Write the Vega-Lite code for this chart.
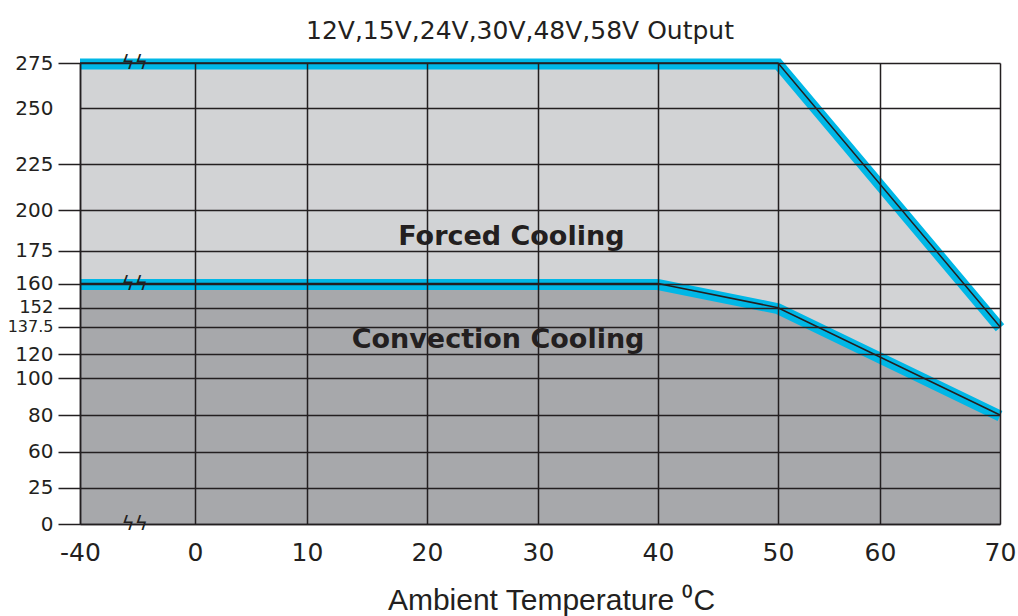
{
  "$schema": "https://vega.github.io/schema/vega-lite/v6.json",
  "autosize": {"type": "none"},
  "width": 920,
  "height": 461,
  "padding": {"left": 80, "top": 63, "right": 18, "bottom": 92},
  "background": "white",
  "config": {"view": {"stroke": null}},
  "title": {
    "text": "12V,15V,24V,30V,48V,58V Output",
    "font": "DejaVu Sans",
    "fontSize": 25,
    "fontWeight": "normal",
    "color": "#231f20",
    "anchor": "middle",
    "baseline": "bottom",
    "dx": -20,
    "dy": 38,
    "offset": 11
  },
  "data": {
    "values": [
      {"s": "forced", "t": -40, "p": 275},
      {"s": "forced", "t": 50, "p": 275},
      {"s": "forced", "t": 70, "p": 137.5},
      {"s": "conv", "t": -40, "p": 160},
      {"s": "conv", "t": 40, "p": 160},
      {"s": "conv", "t": 50, "p": 152},
      {"s": "conv", "t": 70, "p": 80},
      {"s": "label", "t": 27.6, "p": 178.5, "text": "Forced Cooling"},
      {"s": "label", "t": 26.4, "p": 124, "text": "Convection Cooling"},
      {"s": "break", "t": -21, "p": 275, "text": "ϟϟ"},
      {"s": "break", "t": -21, "p": 160, "text": "ϟϟ"},
      {"s": "break", "t": -21, "p": 0, "text": "ϟϟ"}
    ]
  },
  "encoding": {
    "x": {
      "field": "t",
      "type": "quantitative",
      "scale": {
        "domain": [-40, 0, 10, 20, 30, 40, 50, 60, 70],
        "range": [0, 115, 227, 347, 458, 578, 698, 800, 920],
        "clamp": false
      },
      "axis": {
        "values": [-40, 0, 10, 20, 30, 40, 50, 60, 70],
        "labelExpr": "datum.value + ''",
        "grid": true,
        "gridColor": "#231f20",
        "gridWidth": 1.5,
        "ticks": false,
        "domainColor": "#231f20",
        "domainWidth": 1.5,
        "labelFont": "DejaVu Sans",
        "labelFontSize": 25,
        "labelColor": "#231f20",
        "labelPadding": 16,
        "labelFlush": false,
        "labelOverlap": false,
        "title": "Ambient Temperature ⁰C",
        "titleFont": "Liberation Sans",
        "titleFontSize": 30,
        "titleFontWeight": "normal",
        "titleColor": "#231f20",
        "titleX": 471,
        "titleY": 85,
        "titleBaseline": "alphabetic",
        "zindex": 1
      }
    },
    "y": {
      "field": "p",
      "type": "quantitative",
      "scale": {
        "domain": [0, 25, 60, 80, 100, 120, 137.5, 152, 160, 175, 200, 225, 250, 275],
        "range": [461, 424.7, 388.7, 352, 315.3, 291.3, 263.7, 244.7, 220.5, 187.7, 147, 101, 45.3, 0],
        "clamp": false
      },
      "axis": {
        "values": [0, 25, 60, 80, 100, 120, 137.5, 152, 160, 175, 200, 225, 250, 275],
        "labelExpr": "datum.value + ''",
        "grid": true,
        "gridColor": "#231f20",
        "gridWidth": 1.5,
        "tickSize": 22,
        "tickWidth": 1.5,
        "tickColor": {"condition": {"test": "datum.value === 250", "value": "transparent"}, "value": "#231f20"},
        "domainColor": "#231f20",
        "domainWidth": 1.5,
        "labelFont": "DejaVu Sans",
        "labelFontSize": {"condition": [{"test": "datum.value === 137.5", "value": 16}, {"test": "datum.value === 152", "value": 18}], "value": 20},
        "labelColor": "#231f20",
        "labelPadding": 5,
        "labelFlush": false,
        "labelOverlap": false,
        "title": null,
        "zindex": 1
      }
    }
  },
  "layer": [
    {
      "transform": [{"filter": "datum.s === 'forced'"}],
      "mark": {"type": "area", "color": "#d2d3d5", "interpolate": "linear"}
    },
    {
      "transform": [{"filter": "datum.s === 'conv'"}],
      "mark": {"type": "area", "color": "#a7a8ab", "interpolate": "linear"}
    },
    {
      "transform": [{"filter": "datum.s === 'forced' || datum.s === 'conv'"}],
      "mark": {"type": "line", "color": "#00b7e6", "strokeWidth": 11, "strokeJoin": "miter", "yOffset": 1},
      "encoding": {"detail": {"field": "s"}}
    },
    {
      "transform": [{"filter": "datum.s === 'forced' || datum.s === 'conv'"}],
      "mark": {"type": "line", "color": "#231f20", "strokeWidth": 1.5},
      "encoding": {"detail": {"field": "s"}}
    },
    {
      "transform": [{"filter": "datum.s === 'label'"}],
      "mark": {"type": "text", "font": "DejaVu Sans", "fontSize": 27, "fontWeight": "bold", "color": "#231f20", "align": "center", "baseline": "alphabetic"},
      "encoding": {"text": {"field": "text"}}
    },
    {
      "transform": [{"filter": "datum.s === 'break'"}],
      "mark": {"type": "text", "font": "DejaVu Sans", "fontSize": 20, "color": "#231f20", "align": "center", "baseline": "middle"},
      "encoding": {"text": {"field": "text"}}
    }
  ]
}
